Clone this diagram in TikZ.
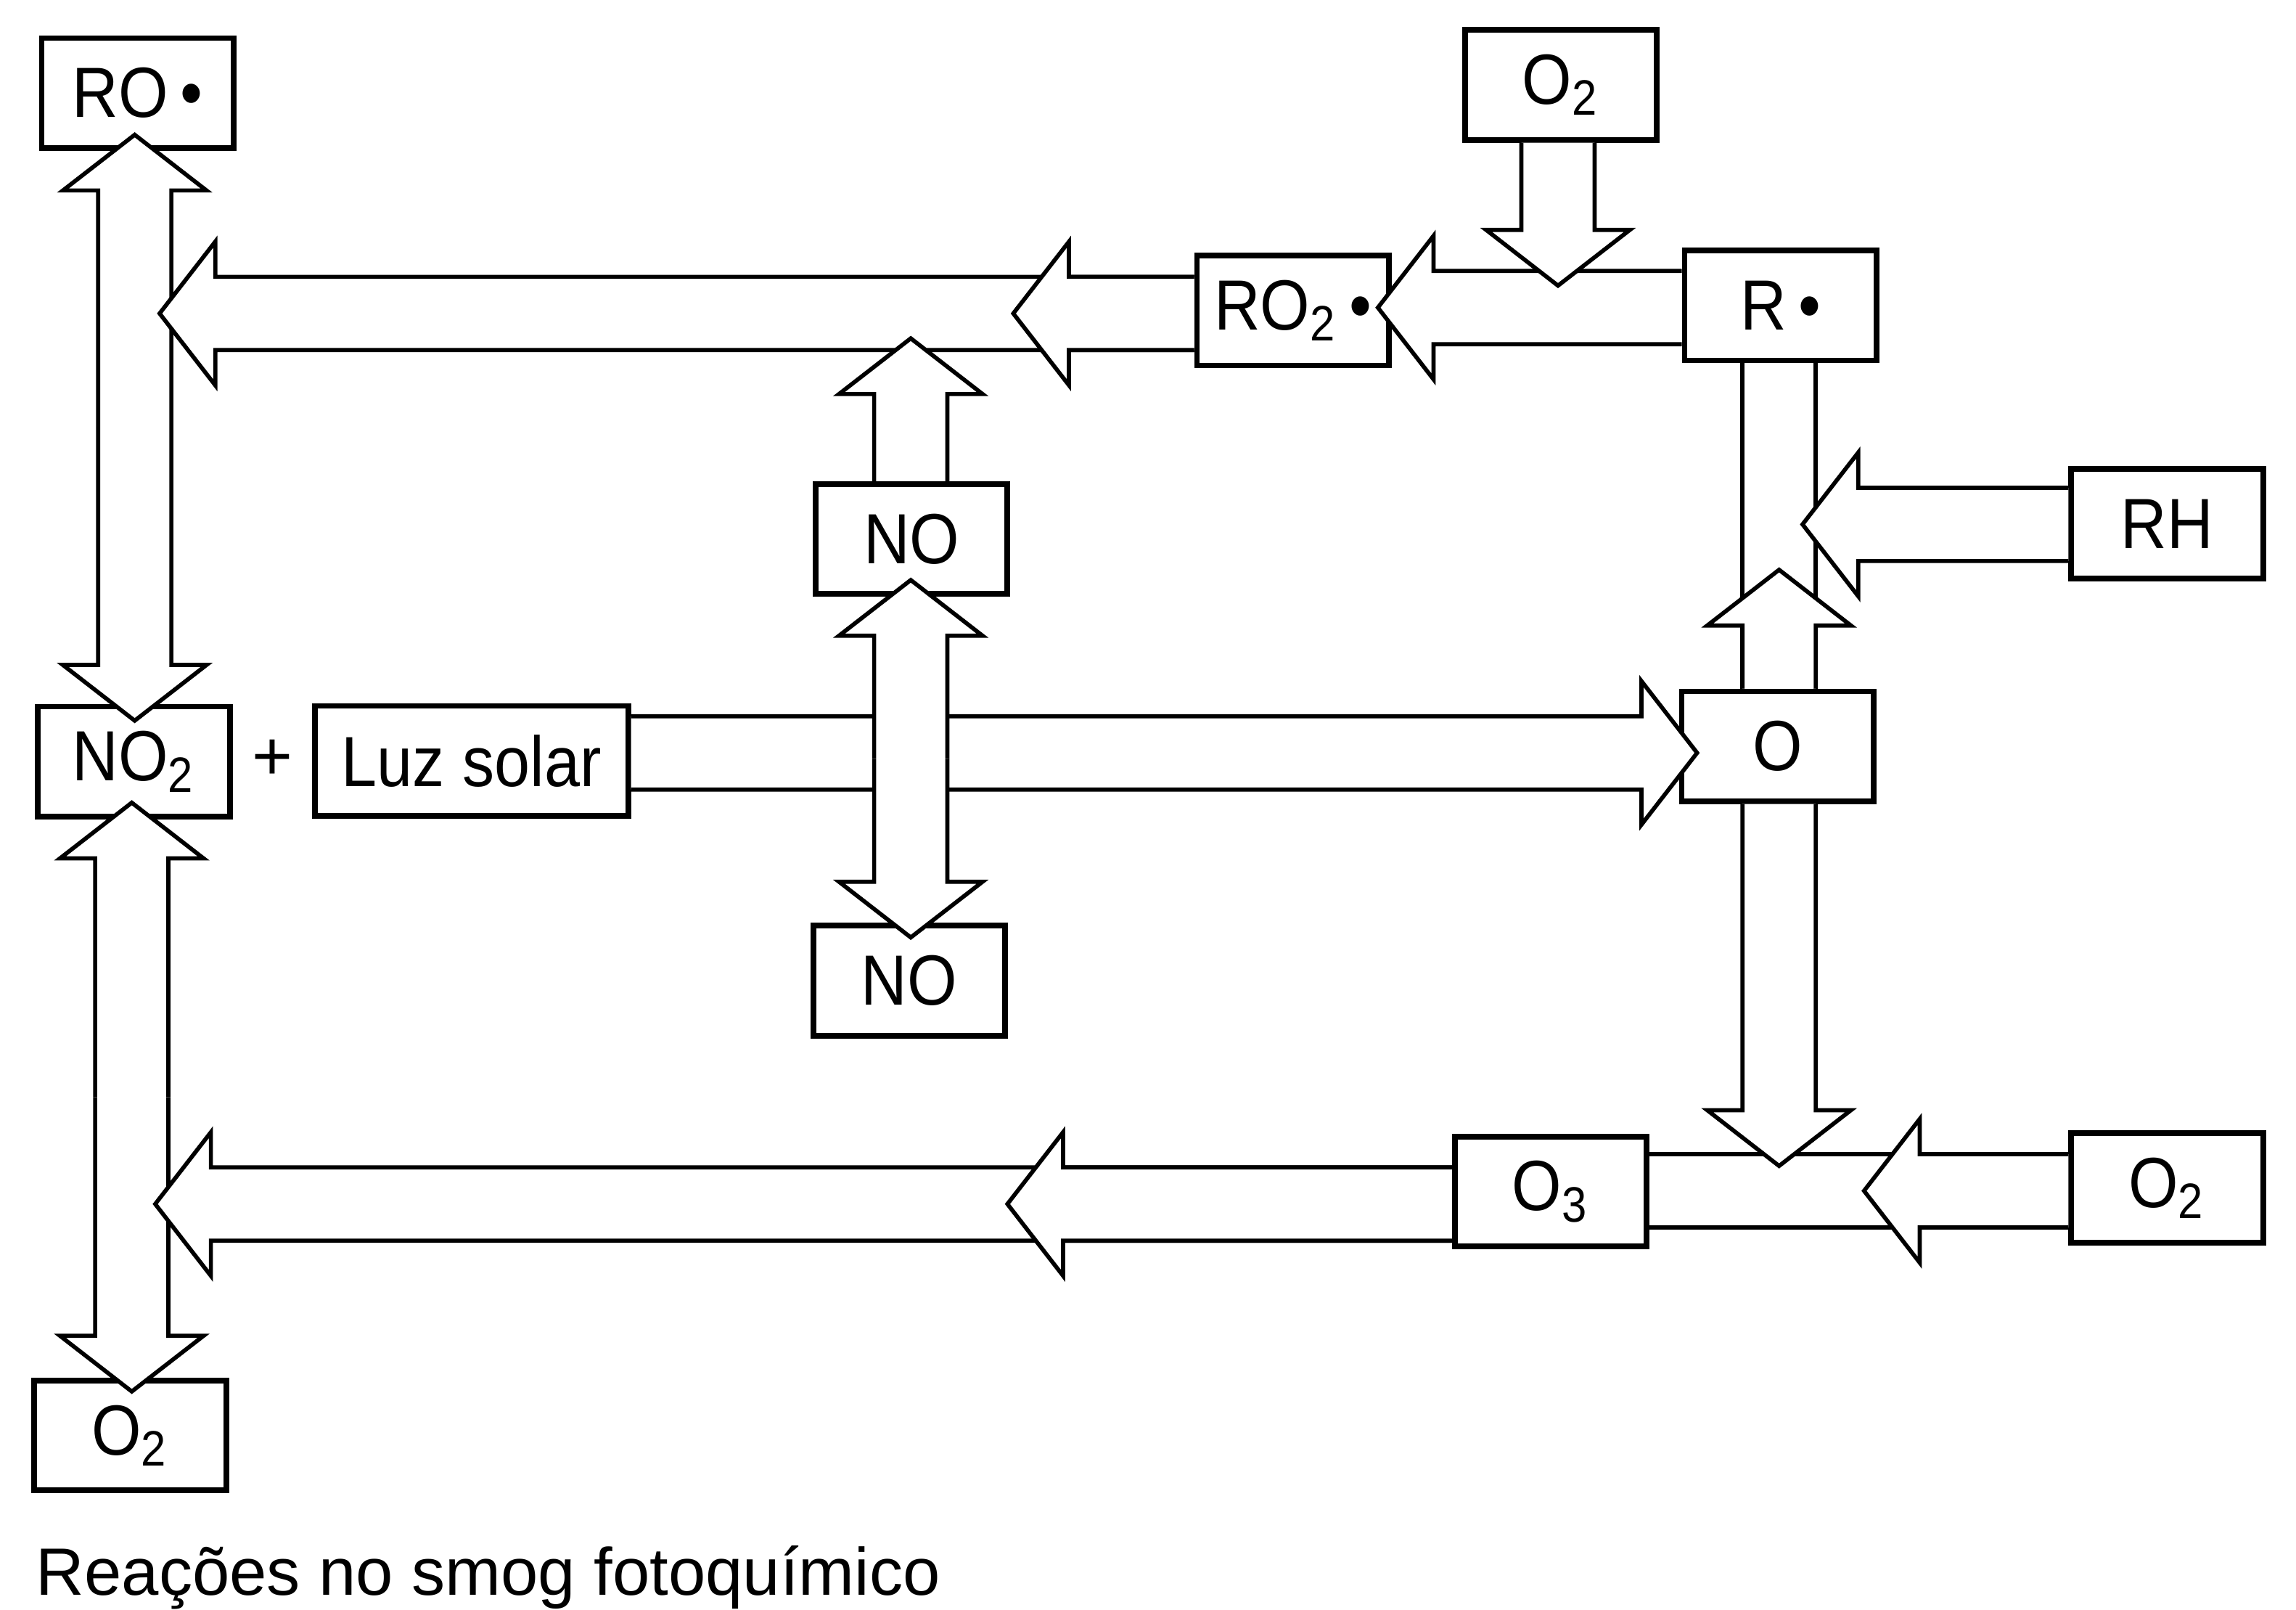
\documentclass[tikz,border=0pt]{standalone}
\usepackage{fontspec}
\setmainfont{Liberation Sans}
\newfontfamily\boxfont[FakeStretch=0.9]{Liberation Sans}
\usetikzlibrary{calc,positioning}
\newcommand{\shaftw}{0.25cm}
\newcommand{\headw}{0.49cm}
\newcommand{\headl}{0.38cm}
% hollow block arrow from #1 to tip #2 (outline left open at #1)
\newcommand{\fatarrow}[2]{%
\coordinate (hb) at ($(#2)!\headl!(#1)$);
\draw[fat] ($(#1)!\shaftw!90:(#2)$)--($(hb)!\shaftw!90:(#2)$)--($(hb)!\headw!90:(#2)$)--(#2)--($(hb)!\headw!-90:(#2)$)--($(hb)!\shaftw!-90:(#2)$)--($(#1)!\shaftw!-90:(#2)$);}
% plain block band between #1 and #2
\newcommand{\fatband}[2]{%
\fill[white] ($(#1)!\shaftw!90:(#2)$)--($(#2)!\shaftw!-90:(#1)$)--($(#2)!\shaftw!90:(#1)$)--($(#1)!\shaftw!-90:(#2)$)--cycle;
\draw[fat] ($(#1)!\shaftw!90:(#2)$)--($(#2)!\shaftw!-90:(#1)$) ($(#1)!\shaftw!-90:(#2)$)--($(#2)!\shaftw!90:(#1)$);}

\begin{document}
\begin{tikzpicture}[x=0.01cm,y=0.01cm,box/.style={draw,line width=1.1pt,minimum width=1.31cm,minimum height=0.75cm,inner sep=0pt,font=\boxfont\fontsize{13.8}{15}\selectfont},fat/.style={draw,fill=white,line width=0.8pt}]
\useasboundingbox (0,0) rectangle (1568,-1099);
\node[box] (ro) at (94,-63.5) {RO\,•};
\node[box] (otop) at (1066,-58) {O\textsubscript{2}};
\node[box] (rotwo) at (883,-212) {RO\textsubscript{2}\,•};
\node[box] (r) at (1216,-208.5) {R\,•};
\node[box] (rh) at (1480,-357.5) {RH};
\node[box] (noa) at (622.5,-368) {NO};
\node[box] (notwo) at (91.5,-520) {NO\textsubscript{2}};
\node[font=\fontsize{13.5}{15}\selectfont] (plus) at (186,-519) {+};
\node[box,minimum width=2.14cm] (luz) at (322,-519.5) {Luz solar};
\node[box] (o) at (1214,-509.5) {O};
\node[box] (nob) at (621,-669.5) {NO};
\node[box] (othree) at (1059,-813.5) {O\textsubscript{3}};
\node[box] (otworight) at (1480,-811) {O\textsubscript{2}};
\node[box] (otwobot) at (89,-980) {O\textsubscript{2}};
\node[anchor=base west,inner sep=0pt,font=\fontsize{13}{15}\selectfont] (caption) at (24,-1089) {Reações no smog fotoquímico};
% tips and free ends
\coordinate (m1) at (92,-292);\coordinate (t1a) at (92,-92);\coordinate (t1b) at (92,-492);
\coordinate (m2) at (90,-749);\coordinate (t2a) at (90,-548);\coordinate (t2b) at (90,-950);
\coordinate (t3) at (109,-214);\coordinate (t4) at (692,-214);\coordinate (s3) at (rotwo.west |- t3);
\coordinate (t5) at (941,-210);\coordinate (s5) at (r.west |- t5);
\coordinate (t6) at (622,-231);\coordinate (s6) at (t6 |- noa.north);
\coordinate (t7) at (1064,-195);\coordinate (s7) at (t7 |- otop.south);
\coordinate (t8) at (1159,-514);\coordinate (s8) at (luz.east |- t8);
\coordinate (m9) at (622,-518);\coordinate (t9a) at (622,-396);\coordinate (t9b) at (622,-640);
\coordinate (t11) at (1215,-389);\coordinate (b10a) at (t11 |- r.south);\coordinate (b10b) at (t11 |- o.north);
\coordinate (t12) at (1231,-358);\coordinate (s12) at (rh.west |- t12);
\coordinate (t14) at (1273,-813);\coordinate (b13a) at (othree.east |- t14);\coordinate (b13b) at (otworight.west |- t14);
\coordinate (t15) at (1215,-796);\coordinate (s15) at (t15 |- o.south);
\coordinate (t16) at (106,-822);\coordinate (t17) at (688,-822);\coordinate (s16) at (othree.west |- t16);
% left column
\fatarrow{m1}{t1a}\fatarrow{m1}{t1b}
\fatarrow{m2}{t2a}\fatarrow{m2}{t2b}
% top row
\fatarrow{s3}{t3}\fatarrow{s3}{t4}
\fatarrow{s6}{t6}
\fatarrow{s5}{t5}
\fatarrow{s7}{t7}
% middle row
\fatarrow{s8}{t8}
\fatarrow{m9}{t9a}\fatarrow{m9}{t9b}
% right column
\fatband{b10a}{b10b}\fatarrow{b10b}{t11}
\fatarrow{s12}{t12}
% bottom row
\fatband{b13a}{b13b}\fatarrow{b13b}{t14}
\fatarrow{s15}{t15}
\fatarrow{s16}{t16}\fatarrow{s16}{t17}
\end{tikzpicture}
\end{document}
